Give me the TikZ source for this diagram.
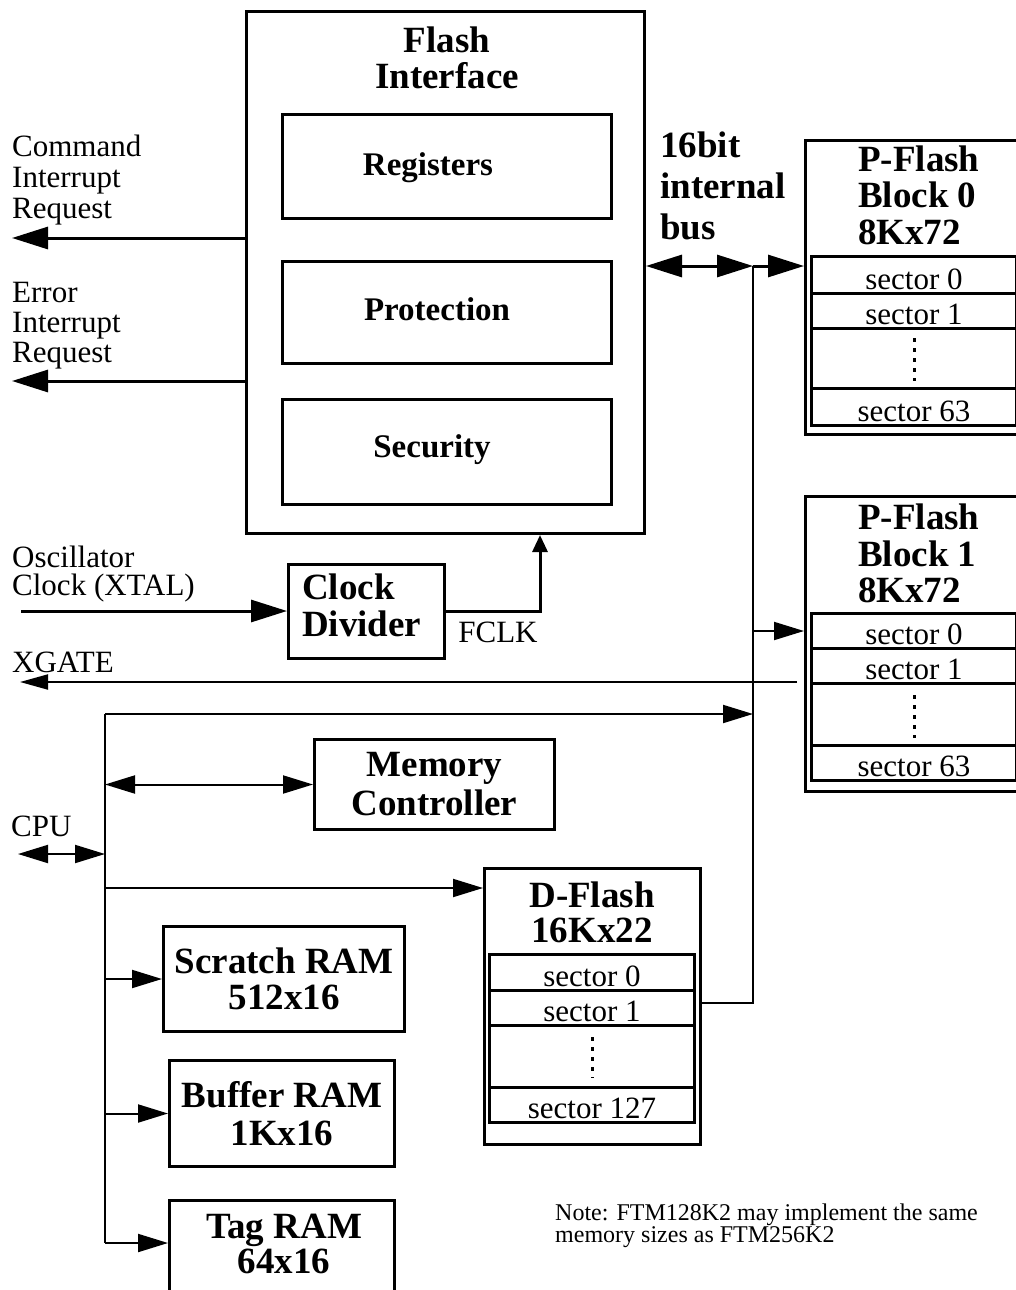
\documentclass[tikz,border=0pt]{standalone}
\usepackage{fontspec}
\setmainfont{Liberation Serif}
\usetikzlibrary{arrows.meta,calc}
\newcommand{\mkrow}[5]{%
  \node[row, minimum height=#4pt] (#1) at (#2,#3) {};
  \node[sec] at ($(#1.south)+(0,-5.5)$) {#5};}
\begin{document}
\begin{tikzpicture}[x=1pt,y=-1pt,
  box/.style={draw, line width=3pt, inner sep=0pt, anchor=north west},
  row/.style={draw, line width=3pt, inner sep=0pt, anchor=north west, minimum width=205pt},
  bigf/.style={font=\fontsize{37}{37}\selectfont\bfseries, inner sep=0pt},
  midf/.style={font=\fontsize{33}{36}\selectfont\bfseries, inner sep=0pt},
  lab/.style={font=\fontsize{31}{31}\selectfont, inner sep=0pt},
  sec/.style={font=\fontsize{31}{31}\selectfont, anchor=base, inner sep=0pt},
  thk/.style={line width=3pt},
  thn/.style={line width=2pt},
  bigtip/.style={-{Triangle[length=36pt,width=22pt]}},
  bigboth/.style={{Triangle[length=36pt,width=22pt]}-{Triangle[length=36pt,width=22pt]}},
  medtip/.style={-{Triangle[length=30pt,width=18pt]}},
  medboth/.style={{Triangle[length=30pt,width=18pt]}-{Triangle[length=30pt,width=18pt]}},
  smalltip/.style={-{Triangle[length=17pt,width=15pt]}},
  dots/.style={line width=3pt, dash pattern=on 4pt off 6pt}
]
\useasboundingbox (0,0) rectangle (1016,1290);
\fill[white] (0,0) rectangle (1016,1290);
\clip (0,0) rectangle (1016,1290);

% Flash interface
\node[box, minimum width=398pt, minimum height=522pt] (fi) at (245,10) {};
\node[bigf, align=center, font=\fontsize{37}{36}\selectfont\bfseries] (fititle) at (447,58) {Flash\\Interface};
\node[box, minimum width=329pt, minimum height=104pt] (reg) at (281,113) {};
\node[midf] (regt) at (428,167.5) {Registers};
\node[box, minimum width=329pt, minimum height=102pt] (prot) at (281,260) {};
\node[midf] (prott) at (437,309) {Protection};
\node[box, minimum width=329pt, minimum height=105pt] (sec) at (281,398) {};
\node[midf] (sect) at (432,450) {Security};

% left labels
\node[lab, align=left, anchor=west, font=\fontsize{31}{31}\selectfont] (cmdlab) at (12,180) {Command\\Interrupt\\Request};
\node[lab, align=left, anchor=west, font=\fontsize{31}{30}\selectfont] (errlab) at (12,325.5) {Error\\Interrupt\\Request};
\node[lab, align=left, anchor=west, font=\fontsize{31}{28}\selectfont] (osclab) at (12,574) {Oscillator\\Clock (XTAL)};
\node[lab, anchor=west] (xglab) at (12,662) {XGATE};
\node[lab, anchor=west] (cpulab) at (11,826) {CPU};
\node[lab] (fclklab) at (498,632) {FCLK};

% Clock divider
\node[box, minimum width=156pt, minimum height=94pt] (cd) at (287,563) {};
\node[bigf, align=left, anchor=west] (cdt) at (302,605) {Clock\\Divider};

% Memory controller
\node[box, minimum width=240pt, minimum height=90pt, align=center, font=\fontsize{37}{39}\selectfont\bfseries] (mc) at (313,738) {Memory\\Controller};

% bus label
\node[bigf, align=left, anchor=west, font=\fontsize{37}{41}\selectfont\bfseries] (buslab) at (660,186) {16bit\\internal\\bus};

% P-Flash block 0
\node[box, minimum width=218pt, minimum height=294pt] (pf0) at (804,139) {};
\node[bigf, align=left, anchor=west, font=\fontsize{37}{36.5}\selectfont\bfseries] (pf0t) at (858,195) {P-Flash\\Block 0\\8Kx72};
\mkrow{pf0a}{810}{255}{37}{sector 0}
\mkrow{pf0b}{810}{292}{35}{sector 1}
\node[row, minimum height=60pt] (pf0d) at (810,327) {};
\mkrow{pf0c}{810}{387}{37}{sector 63}
\draw[dots] ($(pf0d.north)+(0,11)$) -- ($(pf0d.south)+(0,-9)$);

% P-Flash block 1
\node[box, minimum width=218pt, minimum height=295pt] (pf1) at (804,495) {};
\node[bigf, align=left, anchor=west, font=\fontsize{37}{36.5}\selectfont\bfseries] (pf1t) at (858,553.5) {P-Flash\\Block 1\\8Kx72};
\mkrow{pf1a}{810}{612}{35}{sector 0}
\mkrow{pf1b}{810}{647}{35}{sector 1}
\node[row, minimum height=62pt] (pf1d) at (810,682) {};
\mkrow{pf1c}{810}{744}{35}{sector 63}
\draw[dots] ($(pf1d.north)+(0,13)$) -- ($(pf1d.south)+(0,-9)$);

% D-Flash
\node[box, line width=2.5pt, minimum width=216pt, minimum height=276pt] (df) at (483,867) {};
\node[bigf, align=center, font=\fontsize{37}{35}\selectfont\bfseries] (dft) at (592,912.5) {D-Flash\\16Kx22};
\mkrow{dfa}{488}{953}{36}{sector 0}
\mkrow{dfb}{488}{989}{35}{sector 1}
\node[row, minimum height=62pt] (dfd) at (488,1024) {};
\mkrow{dfc}{488}{1086}{35}{sector 127}
\draw[dots] ($(dfd.north)+(0,13)$) -- ($(dfd.south)+(0,-11)$);

% RAMs
\node[box, minimum width=241pt, minimum height=105pt, align=center, font=\fontsize{37}{36}\selectfont\bfseries] (sr) at (162,925) {Scratch RAM\\512x16};
\node[box, minimum width=225pt, minimum height=106pt, align=center, font=\fontsize{37}{38}\selectfont\bfseries] (br) at (168,1059) {Buffer RAM\\1Kx16};
\node[box, minimum width=225pt, minimum height=110pt] (tr) at (168,1199) {};
\node[bigf, align=center, font=\fontsize{37}{35}\selectfont\bfseries] (trt) at (284,1244) {Tag RAM\\64x16};

% note
\node[align=left, anchor=west, inner sep=0pt, font=\fontsize{24}{22}\selectfont] (note) at (555,1225.5) {Note: FTM128K2 may implement the same\\memory sizes as FTM256K2};

% coordinates
\coordinate (cmdout) at (12,238);
\coordinate (errout) at (12,381);
\coordinate (oscin) at (21,611);
\coordinate (fclk) at (540,611);
\coordinate (bustop) at (753,266);
\coordinate (busbot) at (753,1003);
\coordinate (xgR) at (797,682);
\coordinate (xgL) at (20,682);
\coordinate (cpuT) at (105,714);
\coordinate (cpuB) at (105,1243);
\coordinate (cpuin) at (18,854);
\coordinate (dfin) at ($(df.north west)+(0,21)$);

% connectors
\draw[thk, bigtip] (fi.west |- cmdout) -- (cmdout);
\draw[thk, bigtip] (fi.west |- errout) -- (errout);
\draw[thk, bigtip] (oscin) -- (cd.west |- oscin);
\draw[thk, smalltip] (cd.east |- fclk) -- (fclk) -- (fclk |- fi.south);
\draw[thk, bigboth] (fi.east |- bustop) -- (bustop);
\draw[line width=2.7pt] (bustop) -- (busbot) -- (df.east |- busbot);
\draw[thk, bigtip] (bustop) -- (pf0.west |- bustop);
\draw[thn, medtip] (bustop |- pf1a) -- (pf1.west |- pf1a);
\draw[thn, -{Triangle[length=28pt,width=15pt]}] (xgR) -- (xgL);
\draw[thn] (cpuT) -- (cpuB);
\draw[thn, medtip] (cpuT) -- (bustop |- cpuT);
\draw[thn, medboth] (cpuT |- mc) -- (mc.west);
\draw[thn, medboth] (cpuin) -- (cpuT |- cpuin);
\draw[thn, medtip] (cpuT |- dfin) -- (dfin);
\draw[thn, medtip] (cpuT |- sr) -- (sr.west);
\draw[thn, medtip] (cpuT |- br) -- (br.west);
\draw[thn, medtip] (cpuB) -- (tr.west |- cpuB);
\end{tikzpicture}
\end{document}
